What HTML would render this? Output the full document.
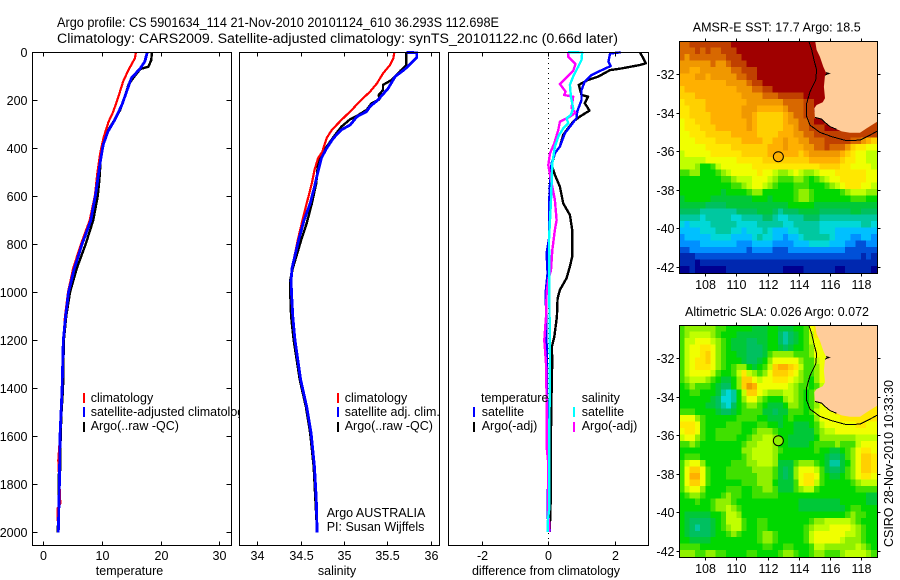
<!DOCTYPE html>
<html lang="en">
<head>
<meta charset="utf-8">
<title>Argo profile chart</title>
<style>
html,body{margin:0;padding:0;background:#fff;}
svg{display:block;font-family:"Liberation Sans",Arial,sans-serif;font-size:12.5px;fill:#000;}
text{fill:#000;}
.frame{fill:none;stroke:#000;stroke-width:1;shape-rendering:crispEdges;}
.bg{fill:#fff;stroke:none;}
.leg{stroke-width:2.4;shape-rendering:crispEdges;fill:none;}
</style>
</head>
<body>
<svg id="chart" width="900" height="580" viewBox="0 0 900 580" xmlns="http://www.w3.org/2000/svg">
<defs>
<clipPath id="clip-map1"><rect x="679.5" y="41.5" width="198" height="232"/></clipPath>
<clipPath id="clip-map2"><rect x="679.5" y="325.5" width="198" height="232"/></clipPath>
</defs>
<rect width="900" height="580" fill="#fff"/>
<text x="57" y="27" font-size="13.5" textLength="442" lengthAdjust="spacingAndGlyphs">Argo profile: CS 5901634_114 21-Nov-2010 20101124_610 36.293S 112.698E</text>
<text x="57" y="43" font-size="13.5" textLength="561" lengthAdjust="spacingAndGlyphs">Climatology: CARS2009. Satellite-adjusted climatology: synTS_20101122.nc (0.66d later)</text>

<g id="panel-temp">
<rect class="bg" x="32.5" y="52.5" width="199" height="493"/>
<g id="temp-marks"></g>
<line class="leg" x1="84" y1="393" x2="84" y2="403" stroke="#f00"/>
<line class="leg" x1="84" y1="407" x2="84" y2="417" stroke="#00f"/>
<line class="leg" x1="84" y1="422" x2="84" y2="432" stroke="#000"/>
<text x="90.7" y="402">climatology</text>
<text x="90.7" y="416">satellite-adjusted climatology</text>
<text x="90.7" y="430">Argo(..raw -QC)</text>
<text x="129.5" y="575" text-anchor="middle">temperature</text>
</g>

<g id="panel-sal">
<rect class="bg" x="239.5" y="52.5" width="200" height="493"/>
<g id="sal-marks"></g>
<line class="leg" x1="338" y1="393" x2="338" y2="403" stroke="#f00"/>
<line class="leg" x1="338" y1="407" x2="338" y2="417" stroke="#00f"/>
<line class="leg" x1="338" y1="422" x2="338" y2="432" stroke="#000"/>
<text x="344.7" y="402">climatology</text>
<text x="344.7" y="416">satellite adj. clim.</text>
<text x="344.7" y="430">Argo(..raw -QC)</text>
<text x="326.7" y="517">Argo AUSTRALIA</text>
<text x="326.7" y="531">PI: Susan Wijffels</text>
<text x="337" y="575" text-anchor="middle">salinity</text>
</g>

<g id="panel-diff">
<rect class="bg" x="448.5" y="52.5" width="200" height="493"/>
<g id="diff-marks"></g>
<text x="481" y="402">temperature</text>
<line class="leg" x1="474" y1="407" x2="474" y2="417" stroke="#00f"/>
<line class="leg" x1="474" y1="422" x2="474" y2="432" stroke="#000"/>
<text x="481.7" y="416">satellite</text>
<text x="481.7" y="430">Argo(-adj)</text>
<text x="581.7" y="402">salinity</text>
<line class="leg" x1="574" y1="407" x2="574" y2="417" stroke="#0ff"/>
<line class="leg" x1="574" y1="422" x2="574" y2="432" stroke="#f0f"/>
<text x="581.7" y="416">satellite</text>
<text x="581.7" y="430">Argo(-adj)</text>
<text x="546" y="575" text-anchor="middle" textLength="148">difference from climatology</text>
</g>

<g id="panel-sst">
<text x="692.7" y="31.5" textLength="168">AMSR-E SST: 17.7 Argo: 18.5</text>
<g id="sst-map" clip-path="url(#clip-map1)"></g>
<g id="sst-axes"></g>
</g>

<g id="panel-sla">
<text x="685" y="316" textLength="184">Altimetric SLA: 0.026 Argo: 0.072</text>
<g id="sla-map" clip-path="url(#clip-map2)"></g>
<g id="sla-axes"></g>
</g>
<text transform="translate(893,547) rotate(-90)" textLength="167">CSIRO 28-Nov-2010 10:33:30</text>
</svg>

<script>
// ---- profile data (depth in dbar) ----
const depthTicks = [0,200,400,600,800,1000,1200,1400,1600,1800,2000];
const tempTicks = [0,10,20,30];
const salTicks = [34,34.5,35,35.5,36];
const salTickLabels = ['34','34.5','35','35.5','36'];
const diffTicks = [-2,0,2];

const tempClimDepth = [0,25,74,122,185,248,290,352,420,505,595,700,800,900,1000,1100,1200,1400,1600,1700,1850,1880,1900,2000];
const tempClimValues = [15.8,15.6,14.5,13.6,12.8,11.9,11.1,10.3,9.7,9.2,8.8,7.9,6.4,5.1,4.2,3.7,3.4,3.2,2.85,2.55,2.85,2.9,2.45,2.5];
const tempSatDepth = [0,38,67,108,163,218,281,330,385,463,532,595,700,800,900,1000,1100,1200,1400,1600,1800,2000];
const tempSatValues = [17.7,17.3,16.5,15,14.2,13.4,12.2,11,10.2,9.66,9.27,8.9,8.1,6.6,5.3,4.3,3.8,3.4,3.2,2.85,2.75,2.55];
const tempArgoDepth = [0,32,60,70,108,135,185,240,290,330,385,440,530,600,700,800,900,1000,1100,1200,1400,1500,1600,1740,1760,1900,2000];
const tempArgoValues = [18.5,18.4,17.9,16.5,15.3,14.5,13.9,13.1,11.9,10.9,10.1,9.8,9.55,9.27,8.5,7.2,5.7,4.55,3.9,3.5,3.35,3.1,2.95,2.9,2.6,2.6,2.45];

const salClimDepth = [0,25,53,88,130,164,205,240,282,323,357,414,442,490,545,615,685,778,900,950,1000,1100,1200,1365,1477,1587,1727,1865,2000];
const salClimValues = [35.58,35.57,35.53,35.45,35.38,35.3,35.18,35.09,34.97,34.86,34.8,34.75,34.7,34.66,34.63,34.58,34.53,34.47,34.4,34.39,34.395,34.41,34.435,34.5,34.57,34.62,34.66,34.68,34.69];
const salSatDepth = [0,2,22,29,71,101,150,199,226,247,268,303,323,357,399,440,497,560,629,699,778,900,950,1000,1100,1200,1365,1477,1587,1727,1865,2000];
const salSatValues = [35.72,35.84,35.84,35.82,35.7,35.59,35.51,35.39,35.3,35.26,35.15,35.07,34.97,34.88,34.8,34.74,34.7,34.66,34.61,34.54,34.48,34.4,34.39,34.395,34.41,34.435,34.5,34.57,34.62,34.66,34.68,34.69];
const salArgoDepth = [0,53,77,115,136,157,178,196,212,240,265,279,310,352,414,461,545,629,712,778,900,950,1000,1100,1200,1365,1477,1587,1727,1865,2000];
const salArgoValues = [35.72,35.72,35.65,35.55,35.45,35.45,35.4,35.41,35.32,35.26,35.15,35.07,34.97,34.88,34.76,34.7,34.68,34.63,34.57,34.51,34.41,34.38,34.38,34.39,34.42,34.49,34.56,34.61,34.65,34.67,34.69];

const diffTempSatDepth = [0,5,39,57,81,95,122,157,199,247,274,310,337,393,420,463,505,550,640,778,837,920,1003,1102,1232,1435,1712,1935,1998];
const diffTempSatValues = [2.18,1.86,1.81,1.88,1.51,1.3,1.1,1,1,0.87,0.85,0.65,0.5,0.35,0.2,0.1,0.07,0.05,0.02,0.02,-0.05,-0.02,-0.08,-0.06,-0.05,-0.04,0,-0.02,0.05];
const diffTempArgoDepth = [0,10,46,53,67,74,101,115,136,178,185,212,243,268,289,316,344,393,420,470,511,560,629,678,740,851,893,941,990,1025,1102,1185,1232,1275,1407,1573,1643,1823,1961,1998];
const diffTempArgoValues = [2.76,2.8,2.94,2.76,2.21,1.86,1.51,1.2,0.92,1,1.2,1.1,1.24,0.95,0.75,0.6,0.45,0.35,0.2,0.1,0.2,0.35,0.45,0.65,0.72,0.72,0.65,0.55,0.35,0.28,0.26,0.18,0.1,0.12,0.1,0.08,0.07,0.08,0.05,0.05];
const diffSalSatDepth = [0,1,32,60,101,136,185,233,261,275,296,317,351,393,463,546,616,699,780,1000,1275,1600,1900,1961,1998];
const diffSalSatValues = [0.6,1.02,1,0.9,0.75,0.65,0.68,0.75,0.68,0.55,0.6,0.45,0.3,0.2,0.12,0.1,0.08,0.05,0.02,0.03,0.05,0.03,0.03,-0.02,-0.02];
const diffSalArgoDepth = [1,18,49,77,104,132,164,178,185,233,252,268,289,323,379,421,470,532,616,699,740,824,907,948,1003,1102,1200,1296,1435,1643,1712,1935,1961,1998];
const diffSalArgoValues = [0.6,0.6,0.82,0.75,0.55,0.35,0.52,0.48,0.75,0.7,0.82,0.65,0.35,0.3,0.18,0.05,0,0.08,0.2,0.25,0.2,0.12,0.08,0,-0.05,-0.07,-0.12,-0.07,-0.05,-0.05,0,0,0.03,0.03];

// ---- map data: colour levels on a 1/3 degree grid ----
const mapLonTicks = [108,110,112,114,116,118];
const mapLatTicks = [-32,-34,-36,-38,-40,-42];
const floatLon = 112.698;
const floatLat = -36.293;
const sstFloatLevel = 16;
const slaFloatLevel = 11;
const coastLon = [115.05,115.16,115.37,115.59,115.76,115.95,115.70,115.63,115.70,115.55,115.16,115.01,115.05,115.48,115.70,116.02,116.45,116.77,117.30,117.95,118.38,118.70,119.2,119.2];
const coastLat = [-30.2,-30.75,-31.10,-31.62,-31.93,-31.97,-32.07,-32.66,-33.26,-33.47,-33.61,-33.78,-34.25,-34.34,-34.51,-34.73,-34.87,-34.98,-35.05,-35.05,-34.82,-34.65,-34.40,-30.2];
const isobathLon = [114.62,114.84,114.99,115.16,115.10,114.73,114.52,114.52,114.73,115.37,116.12,117.09,117.95,118.59,119.2];
const isobathLat = [-30.2,-30.75,-31.27,-31.79,-32.31,-32.92,-33.52,-34.21,-34.65,-35.03,-35.25,-35.46,-35.43,-35.17,-34.90];

const sstLevels = [
[18,18,19,19,19,19,19,19,19,19,20],
[18,18,18,19,18,19,18,18,19,19,19,20],
[18,17,18,18,18,18,18,18,18,19,19,19,20],
[17,17,17,17,17,17,18,17,17,18,19,19,19,20],
[17,17,16,16,17,17,17,17,17,17,18,18,19,19,19,20],
[16,16,16,17,17,16,17,17,17,17,17,18,18,19,19,20],
[16,16,16,16,16,16,16,16,16,17,17,17,17,18,19,19,20],
[15,16,16,16,16,16,16,16,16,16,16,17,17,17,18,18,19,19,20],
[15,15,15,16,16,16,16,16,16,16,16,16,17,17,17,17,18,18,18,19,19,19,19,19,20],
[14,15,15,15,15,16,16,16,16,16,16,16,16,17,17,17,17,17,17,17,18,18,18,18,19,19,20],
[14,14,15,15,15,16,16,16,16,16,16,16,17,17,17,16,16,16,16,16,17,18,18,18,19,19,20],
[14,14,15,15,15,15,16,16,16,16,16,16,17,17,16,15,15,15,15,15,16,17,18,18,19,19,19,20],
[13,14,14,15,15,15,16,16,16,16,16,16,16,17,16,15,15,15,15,15,16,17,17,18,18,19,20,20,19,19,19],
[13,14,14,14,15,15,15,16,16,16,16,16,16,17,16,15,15,15,15,15,16,16,17,18,18,19,19,19,20,20,20,19,19,19,19,19,19,19],
[13,13,14,14,14,15,15,15,15,15,16,16,16,16,16,15,15,15,15,16,16,16,17,17,18,18,19,19,19,19,19,19,19,19,19,19,19,19],
[13,13,13,14,14,14,14,15,15,15,15,15,16,16,16,16,15,15,16,16,17,16,16,17,17,18,18,18,19,19,19,19,19,18,18,17,16,15],
[13,13,13,13,13,14,14,14,14,14,15,15,15,15,15,15,15,16,16,16,17,16,16,16,17,17,18,18,19,18,18,18,17,15,14,14,13,13],
[12,13,13,13,13,13,14,14,14,14,14,14,15,15,15,15,15,16,16,16,16,16,16,15,16,17,17,17,17,17,17,16,15,14,13,13,12,12],
[12,12,12,12,12,13,13,13,13,13,13,14,14,14,14,14,15,15,15,15,15,15,15,15,15,16,16,16,16,16,16,15,14,14,13,13,12,12],
[12,12,12,11,9,9,10,12,13,13,13,13,13,13,14,14,14,14,14,14,14,14,14,14,14,14,14,15,15,15,15,14,14,13,13,13,13,12],
[10,10,11,11,9,9,9,10,11,12,13,13,13,13,13,14,13,13,12,11,11,12,13,12,11,11,12,13,13,13,14,14,14,14,14,14,13,13],
[9,9,9,9,9,9,9,9,10,10,11,12,12,12,13,13,13,12,11,10,10,10,11,11,10,9,10,11,12,13,13,14,14,14,14,14,13,13],
[9,9,9,9,9,9,9,9,9,9,10,10,11,12,13,13,12,11,10,9,9,9,10,10,10,9,9,9,10,11,12,13,14,14,14,13,13,12],
[9,9,9,9,9,9,9,9,8,9,9,9,9,10,11,11,9,9,9,9,9,9,10,11,11,10,9,9,9,9,9,10,11,12,12,12,11,11],
[8,9,9,9,9,9,8,8,8,8,8,8,8,8,9,9,9,8,9,9,9,9,10,11,11,10,9,9,9,9,9,9,9,10,10,10,9,9],
[8,8,8,8,8,7,7,7,7,8,8,8,8,8,8,8,8,8,8,8,8,9,9,9,9,9,8,8,8,8,8,8,8,8,8,8,8,8],
[7,7,7,7,6,6,6,6,6,6,6,7,7,7,7,8,8,8,7,6,7,7,7,8,8,8,8,7,7,7,7,7,7,8,8,7,7,7],
[6,6,6,6,5,6,6,6,6,6,5,5,6,6,6,6,7,7,6,5,5,6,6,6,7,7,7,6,6,6,6,6,6,6,6,6,6,6],
[5,4,5,5,5,5,6,6,6,6,6,5,5,5,5,6,6,6,6,6,5,5,6,6,6,6,6,5,5,5,5,5,5,5,5,6,6,5],
[4,4,4,4,5,5,5,6,6,6,5,5,4,5,5,5,6,5,4,4,4,5,5,6,6,6,6,5,5,5,4,4,4,4,4,4,4,4],
[3,4,4,4,4,4,5,5,5,5,4,4,4,4,5,6,5,5,4,4,3,4,4,5,6,6,6,6,6,5,4,4,4,3,3,4,4,3],
[3,3,3,3,4,4,4,4,4,4,4,3,3,3,4,4,4,4,3,3,3,3,4,4,4,5,5,5,5,4,4,4,3,3,2,2,3,3],
[2,2,3,3,3,3,3,3,3,3,3,3,3,2,3,3,3,3,2,2,2,3,3,3,3,3,3,3,3,3,3,3,2,2,2,2,2,2],
[1,1,1,2,2,2,2,2,2,2,2,2,2,2,2,2,2,2,2,2,2,2,2,2,2,2,2,2,2,2,2,2,2,2,2,1,2,1],
[1,1,1,0,1,1,1,1,1,1,1,1,1,1,1,1,1,1,1,1,1,1,1,1,1,1,1,1,1,1,1,1,1,1,1,1,1,1],
[0,0,1,0,0,0,0,0,0,1,1,1,1,1,1,1,1,1,1,1,0,0,0,0,1,1,1,1,1,1,0,0,1,1,1,1,1,0]
];

const slaLevels = [
[10,11,11,11,11,11,11,10,10,9,9,9,9,9,8,8,8,9,9,8,8,8,9,9,10,13,14],
[10,11,12,12,12,12,11,10,9,9,9,8,8,8,8,8,8,9,9,7,6,7,8,9,10,12,14],
[10,12,12,13,13,13,12,11,10,9,8,8,8,7,7,8,8,9,9,7,6,7,8,9,10,12,13,14],
[10,12,13,13,14,14,13,11,10,9,8,8,8,7,7,7,8,9,9,8,7,8,9,9,10,11,13,13],
[10,12,13,13,14,15,13,11,10,9,9,8,8,7,7,7,8,10,11,11,11,11,10,10,10,11,13,13],
[10,12,13,14,14,15,13,11,10,9,9,9,8,7,7,8,9,11,13,13,13,13,13,11,10,10,12,13],
[10,12,13,14,14,14,13,11,10,9,10,11,11,9,8,9,10,12,15,16,16,15,14,12,10,10,11,13],
[10,12,13,13,13,13,12,10,9,9,10,12,14,12,11,10,11,13,15,15,15,14,13,11,10,10,11,13],
[10,11,12,12,12,11,10,9,8,8,9,11,15,15,13,12,13,13,14,14,14,13,12,11,10,9,11,13],
[9,10,11,10,10,10,9,8,7,7,9,11,15,17,16,13,13,13,13,13,13,12,11,10,10,9,10,12,13],
[9,9,10,10,9,9,9,8,6,5,6,9,12,15,15,13,12,11,11,11,12,12,11,10,9,10,11,13],
[9,9,9,9,9,9,8,7,5,5,6,9,11,13,13,11,10,9,9,9,11,12,11,10,9,10,11,13],
[9,9,9,9,9,8,8,7,6,5,7,9,10,11,11,10,9,8,8,8,9,11,11,10,9,10,11,13,13,14],
[10,10,10,9,9,9,9,8,7,7,8,9,10,10,10,10,8,8,7,8,8,10,10,10,9,10,12,13,13,13,14],
[13,13,13,11,10,9,9,9,9,9,9,10,10,10,10,9,9,8,8,8,9,10,9,9,9,9,11,13,13,13,13,14,14,14,14,14,14,14],
[14,14,14,13,10,9,9,9,9,10,10,10,9,9,9,10,10,9,9,8,9,9,8,8,8,9,10,12,13,13,13,13,13,13,14,14,13,13],
[13,14,14,13,10,9,9,10,10,10,10,10,9,9,10,11,11,11,10,9,9,9,8,8,8,8,10,11,12,12,13,13,13,13,13,13,13,13],
[12,13,13,11,10,9,9,10,10,10,10,9,9,10,11,11,12,12,11,9,9,8,8,8,8,8,9,11,11,11,11,11,11,11,12,12,12,12],
[10,10,11,10,9,9,9,9,9,9,9,9,10,11,11,12,12,12,11,9,9,8,8,8,8,9,10,10,10,10,11,10,10,10,12,13,13,13],
[9,9,9,9,9,9,9,9,9,9,9,9,11,11,12,12,12,12,11,10,9,9,9,9,9,9,10,9,9,8,8,9,10,11,13,14,14,13],
[9,10,10,10,9,9,9,9,9,9,9,9,10,11,12,12,12,12,11,9,9,9,9,9,9,9,9,9,8,7,7,8,10,11,13,15,15,14],
[10,12,13,13,11,9,9,9,9,9,10,10,10,11,11,12,12,12,11,8,8,8,10,11,11,11,10,9,8,6,6,8,9,11,13,15,15,14],
[10,13,15,15,13,10,9,9,9,10,10,10,10,10,11,11,11,11,10,8,7,8,11,13,13,13,12,10,8,7,7,8,10,11,13,15,15,14],
[10,13,16,16,13,10,9,9,9,10,10,10,10,10,10,11,11,11,10,8,7,8,11,13,14,14,13,10,9,8,8,9,10,11,13,14,14,13],
[10,13,15,15,13,10,9,9,9,9,9,9,10,10,10,11,11,11,9,8,8,8,10,13,14,14,12,10,9,9,9,9,9,10,11,12,12,12],
[10,12,13,13,11,9,9,9,9,10,10,10,9,9,10,10,11,11,10,8,8,8,10,11,12,12,10,9,9,9,9,9,9,9,10,10,10,10],
[9,10,11,11,10,9,9,9,10,11,10,10,9,9,10,10,10,10,10,9,9,9,9,9,9,9,9,9,9,9,9,9,9,9,9,9,8,8],
[9,9,9,10,9,9,10,11,11,11,10,9,9,9,9,9,9,9,9,9,9,9,9,8,8,8,8,8,8,8,8,9,9,9,9,9,8,8],
[9,9,9,9,9,9,10,11,11,12,11,10,9,9,9,9,9,9,9,9,9,9,9,8,8,8,8,8,8,8,8,8,9,10,10,9,9,9],
[9,8,8,8,8,8,9,9,10,12,12,11,9,9,9,9,9,9,9,9,9,9,9,9,9,9,9,9,9,9,9,9,10,11,10,10,9,9],
[9,8,7,7,7,7,8,9,10,12,12,12,10,9,9,10,10,9,9,9,9,9,9,9,9,10,11,11,12,12,12,12,12,11,10,9,9,9],
[9,8,7,6,7,7,8,9,10,11,12,12,10,9,9,10,10,9,9,9,9,9,9,9,10,11,12,12,12,13,13,13,13,12,11,10,9,9],
[9,8,7,7,7,7,8,9,9,10,11,10,9,9,9,10,11,11,10,9,9,9,9,9,10,12,13,13,13,13,13,13,12,12,11,10,9,9],
[9,9,8,8,8,8,9,9,9,9,9,9,9,9,9,10,11,11,10,9,9,9,9,9,10,12,13,13,13,13,13,12,11,11,11,10,9,9],
[10,10,10,10,9,9,9,9,9,9,9,9,9,9,9,9,10,10,9,9,10,10,9,9,9,10,12,12,11,11,11,11,11,11,12,11,10,9],
[11,11,11,10,10,11,11,10,10,9,9,9,9,10,10,9,9,9,9,10,11,11,10,9,9,10,11,11,10,10,10,11,12,12,12,12,11,10]
];

const levelColors = ['#000090','#0028b0','#0050d8','#0090ff','#00c0ff','#00d8d8','#00c8a0','#00c060','#00c838','#00d800','#40e000','#90f000','#c0ff00','#f0ff00','#ffe800','#ffd000','#ffb000','#f09800','#d86800','#c04000','#a00000'];

// ---- axis functions ----
const tempX = v => 43.3 + 5.87 * v;
const salX = v => 257.3 + (v - 34) * 86.7;
const diffX = v => 548.3 + v * 33.2;
const depthY = d => 52.3 + 0.24 * d;
const lonX = lon => 705.3 + (lon - 108) * 15.55;
const sstLatY = lat => 74 + (-32 - lat) * 19.27;
const slaLatY = lat => 358 + (-32 - lat) * 19.27;

const NS = 'http://www.w3.org/2000/svg';
function make(tag, attrs, parent, txt) {
  const el = document.createElementNS(NS, tag);
  for (const k in attrs) el.setAttribute(k, attrs[k]);
  if (txt !== undefined) el.textContent = txt;
  parent.appendChild(el);
  return el;
}

function drawLine(parent, xFn, depths, values, color, name, width) {
  const pts = depths.map((d, i) => xFn(values[i]).toFixed(1) + ',' + depthY(d).toFixed(1)).join(' ');
  const el = make('polyline', {points: pts, fill: 'none', stroke: color, 'stroke-width': width, 'shape-rendering': 'crispEdges', 'stroke-linejoin': 'round'}, parent);
  
  
}

function tick(parent, x1, y1, x2, y2) {
  const el = make('line', {x1: x1, y1: y1, x2: x2, y2: y2, stroke: '#000', 'stroke-width': 1, 'shape-rendering': 'crispEdges'}, parent);
  
  
}

function label(parent, x, y, anchor, str) {
  const el = make('text', {x: x, y: y, 'text-anchor': anchor}, parent, str);
  
  
}

function frame(parent, x, y, w, h) {
  const el = make('rect', {x: x, y: y, width: w, height: h, class: 'frame'}, parent);
  
  
}

function profileAxes(parent, left, right, xFn, ticks, labels, withDepth) {
  const top = 52.5, bottom = 545.5;
  ticks.forEach((t, i) => {
    const x = Math.round(xFn(t)) + 0.5;
    tick(parent, x, top, x, top + 4);
    tick(parent, x, bottom, x, bottom - 4);
    label(parent, x, 560, 'middle', labels[i]);
  });
  if (withDepth) {
    depthTicks.forEach(d => {
      const y = Math.round(depthY(d)) + 0.5;
      tick(parent, left, y, left + 5, y);
      tick(parent, right, y, right - 5, y);
      label(parent, 27.5, y + 4.5, 'end', String(d));
    });
  }
  frame(parent, left, top, right - left, bottom - top);
}

// ---- temperature panel ----
const tempG = document.getElementById('temp-marks');
drawLine(tempG, tempX, tempArgoDepth, tempArgoValues, '#000', 'temperature-argo-line', 2.4);
drawLine(tempG, tempX, tempClimDepth, tempClimValues, '#f00', 'temperature-climatology-line', 2.2);
drawLine(tempG, tempX, tempSatDepth, tempSatValues, '#00f', 'temperature-satellite-line', 2.8);
profileAxes(document.getElementById('panel-temp'), 32.5, 231.5, tempX, tempTicks, tempTicks.map(String), true);

// ---- salinity panel ----
const salG = document.getElementById('sal-marks');
drawLine(salG, salX, salArgoDepth, salArgoValues, '#000', 'salinity-argo-line', 2.4);
drawLine(salG, salX, salClimDepth, salClimValues, '#f00', 'salinity-climatology-line', 2.2);
drawLine(salG, salX, salSatDepth, salSatValues, '#00f', 'salinity-satellite-line', 2.8);
profileAxes(document.getElementById('panel-sal'), 239.5, 439.5, salX, salTicks, salTickLabels, false);

// ---- difference panel ----
const diffG = document.getElementById('diff-marks');
const zeroLine = make('line', {x1: diffX(0), y1: 53, x2: diffX(0), y2: 545, stroke: '#000', 'stroke-width': 1, 'stroke-dasharray': '1 4', 'shape-rendering': 'crispEdges'}, diffG);


drawLine(diffG, diffX, diffTempArgoDepth, diffTempArgoValues, '#000', 'diff-temperature-argo-line', 2.4);
drawLine(diffG, diffX, diffTempSatDepth, diffTempSatValues, '#00f', 'diff-temperature-satellite-line', 2.4);
drawLine(diffG, diffX, diffSalArgoDepth, diffSalArgoValues, '#f0f', 'diff-salinity-argo-line', 2.4);
drawLine(diffG, diffX, diffSalSatDepth, diffSalSatValues, '#0ff', 'diff-salinity-satellite-line', 2.4);
profileAxes(document.getElementById('panel-diff'), 448.5, 648.5, diffX, diffTicks, diffTicks.map(String), false);

// ---- maps ----
function drawMap(cellsId, axesId, levels, latY, floatLevel, prefix) {
  const g = document.getElementById(cellsId);
  const topLat = -30.3;
  const bgRect = make('rect', {x: 679, y: latY(topLat) - 1, width: 200, height: 234, fill: '#ffcc99'}, g);
  
  
  levels.forEach((row, r) => {
    for (let c = 0; c < 39; c++) {
      const v = c < row.length ? row[c] : row[row.length - 1];
      const lon = 106.33 + c / 3, lat = topLat - r / 3;
      const x0 = lonX(lon), x1 = lonX(lon + 1 / 3), y0 = latY(lat), y1 = latY(lat - 1 / 3);
      const cell = make('rect', {x: x0.toFixed(2), y: y0.toFixed(2), width: (x1 - x0 + 0.4).toFixed(2), height: (y1 - y0 + 0.4).toFixed(2), fill: levelColors[v], 'shape-rendering': 'crispEdges'}, g);
      
      
    }
  });
  const landPts = coastLon.map((lon, i) => lonX(lon).toFixed(1) + ',' + latY(coastLat[i]).toFixed(1)).join(' ');
  const land = make('polygon', {points: landPts, fill: '#ffcc99', stroke: 'none'}, g);
  
  
  const shorePts = coastLon.slice(12, 17).map((lon, i) => lonX(lon).toFixed(1) + ',' + latY(coastLat[i + 12]).toFixed(1)).join(' ');
  const shore = make('polyline', {points: shorePts, fill: 'none', stroke: '#000', 'stroke-width': 1, 'shape-rendering': 'crispEdges'}, g);
  
  
  const spikePts = coastLon.slice(4, 7).map((lon, i) => lonX(lon).toFixed(1) + ',' + latY(coastLat[i + 4]).toFixed(1)).join(' ');
  const spike = make('polyline', {points: spikePts, fill: 'none', stroke: '#000', 'stroke-width': 1, 'shape-rendering': 'crispEdges'}, g);
  
  
  const isoPts = isobathLon.map((lon, i) => lonX(lon).toFixed(1) + ',' + latY(isobathLat[i]).toFixed(1)).join(' ');
  const iso = make('polyline', {points: isoPts, fill: 'none', stroke: '#000', 'stroke-width': 1, 'shape-rendering': 'crispEdges'}, g);
  
  
  const marker = make('circle', {cx: lonX(floatLon), cy: latY(floatLat), r: 5, fill: levelColors[floatLevel], stroke: '#000', 'stroke-width': 1}, g);
  
  

  const axes = document.getElementById(axesId);
  const top = Math.round(latY(topLat) - 0.3) + 0.5, bottom = top + 232, left = 679.5, right = 877.5;
  mapLonTicks.forEach(t => {
    const x = Math.round(lonX(t)) + 0.5;
    tick(axes, x, top, x, top - 3);
    tick(axes, x, bottom, x, bottom + 3);
    label(axes, x, bottom + 15.5, 'middle', String(t));
  });
  mapLatTicks.forEach(t => {
    const y = Math.round(latY(t)) + 0.5;
    tick(axes, left, y, left - 3, y);
    tick(axes, right, y, right + 3, y);
    label(axes, 674.5, y + 4.5, 'end', String(t));
  });
  frame(axes, left, top, right - left, bottom - top);
}
drawMap('sst-map', 'sst-axes', sstLevels, sstLatY, sstFloatLevel, 'sst');
drawMap('sla-map', 'sla-axes', slaLevels, slaLatY, slaFloatLevel, 'sla');
</script>
</body>
</html>
